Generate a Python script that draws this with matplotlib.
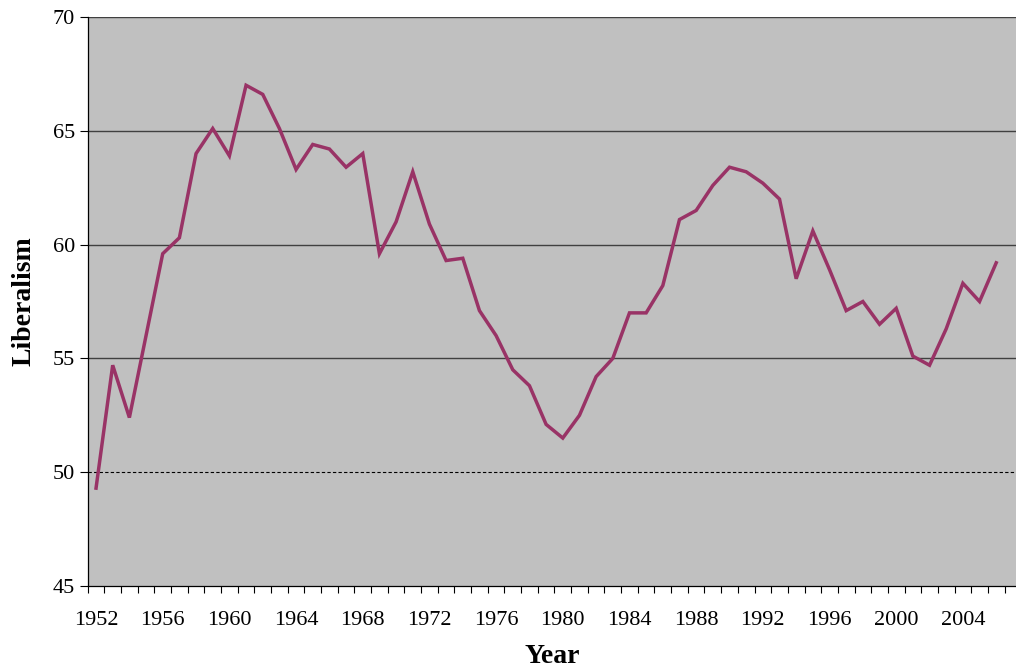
import matplotlib
matplotlib.use("Agg")
import matplotlib.pyplot as plt
from matplotlib.ticker import MultipleLocator, FixedLocator

# yearly liberalism score
years = list(range(1952, 2007))
liberalism = [
    49.3, 54.7, 52.4, 56.0, 59.6, 60.3, 64.0, 65.1, 63.9, 67.0,
    66.6, 65.1, 63.3, 64.4, 64.2, 63.4, 64.0, 59.6, 61.0, 63.2,
    60.9, 59.3, 59.4, 57.1, 56.0, 54.5, 53.8, 52.1, 51.5, 52.5,
    54.2, 55.0, 57.0, 57.0, 58.2, 61.1, 61.5, 62.6, 63.4, 63.2,
    62.7, 62.0, 58.5, 60.6, 58.9, 57.1, 57.5, 56.5, 57.2, 55.1,
    54.7, 56.3, 58.3, 57.5, 59.2,
]
label_years = list(range(1952, 2005, 4))
solid_grid = [55, 60, 65, 70]
dashed_grid = [50]

plt.rcParams["font.family"] = ["Liberation Serif", "DejaVu Serif"]

fig = plt.figure(figsize=(10.16, 6.72), dpi=100)
ax = fig.add_axes([87.7 / 1016, 86 / 672, 1 - 87.7 / 1016, 569 / 672])
ax.set_facecolor("#C0C0C0")

for g in solid_grid:
    ax.axhline(g, color="#404040", lw=1.0, zorder=1)
for g in dashed_grid:
    ax.axhline(g, color="black", lw=0.8, ls=(0, (3, 2)), zorder=1)

ax.plot(years, liberalism, color="#993366", lw=2.5, zorder=3, solid_joinstyle="miter")

ax.set_ylim(45, 70)
ax.set_xlim(1951.5, 1951.5 + (1016 - 87.7) / 16.67)
ax.yaxis.set_major_locator(MultipleLocator(5))
ax.xaxis.set_major_locator(FixedLocator(label_years))
ax.xaxis.set_minor_locator(FixedLocator([y - 0.5 for y in years] + [2006.5]))

ax.tick_params(axis="x", which="major", length=0, pad=18, labelsize=16)
ax.tick_params(axis="x", which="minor", length=5, width=0.8, direction="out")
ax.tick_params(axis="y", length=6, width=0.8, direction="out", pad=3, labelsize=16)

for s in ["top", "right"]:
    ax.spines[s].set_visible(False)
ax.spines["left"].set_linewidth(0.9)
ax.spines["bottom"].set_linewidth(0.9)

ax.set_xlabel("Year", fontsize=20, fontweight="bold", labelpad=10)
ax.set_ylabel("Liberalism", fontsize=20, fontweight="bold", labelpad=12)

fig.savefig("out.png", dpi=100)
